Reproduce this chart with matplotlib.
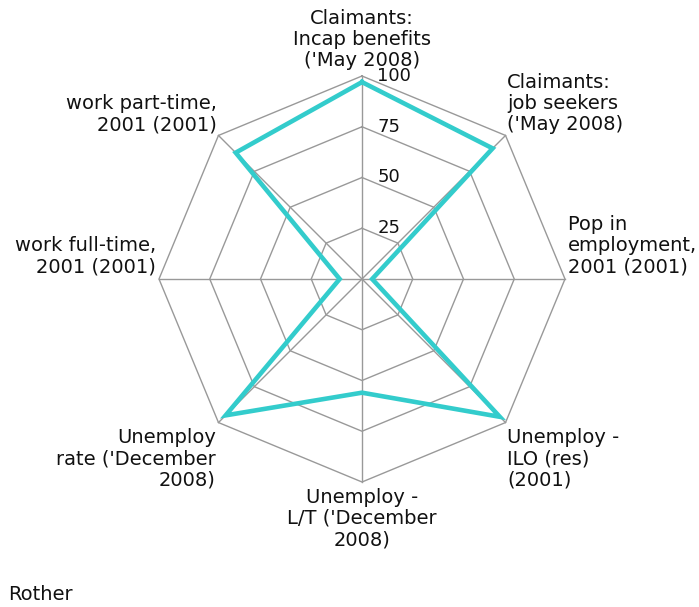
import numpy as np
import matplotlib
matplotlib.use("Agg")
import matplotlib.pyplot as plt

categories = [
    "Claimants:\nIncap benefits\n('May 2008)",
    "Claimants:\njob seekers\n('May 2008)",
    "Pop in\nemployment,\n2001 (2001)",
    "Unemploy -\nILO (res)\n(2001)",
    "Unemploy -\nL/T ('December\n2008)",
    "Unemploy\nrate ('December\n2008)",
    "work full-time,\n2001 (2001)",
    "work part-time,\n2001 (2001)",
]
values = [97, 91, 5, 96, 56, 95, 11, 88]
ring_levels = [25, 50, 75, 100]
ring_labels = ["25", "50", "75", "100"]
series_name = "Rother"

FS = 14
LS = 1.15
TEXT = "#111111"
GRID = "#999999"
LINE = "#33CCCC"

W, H = 699, 607
fig = plt.figure(figsize=(W / 100, H / 100), dpi=100)
cx, cy, R = 362, 279, 203
ax = fig.add_axes([(cx - R) / W, (H - cy - R) / H, 2 * R / W, 2 * R / H], projection="polar")
ax.set_theta_zero_location("N")
ax.set_theta_direction(-1)
ax.set_ylim(0, 100)
ax.grid(False)
ax.set_xticks([])
ax.set_yticks([])
ax.spines["polar"].set_visible(False)
ax.patch.set_visible(False)

n = len(categories)
angles = np.arange(n) * 2 * np.pi / n
closed = np.append(angles, angles[0])

for lvl in ring_levels:
    ax.plot(closed, [lvl] * (n + 1), color=GRID, lw=1.0, zorder=1, clip_on=False)
for a in angles:
    ax.plot([a, a], [0, ring_levels[-1]], color=GRID, lw=1.0, zorder=1, clip_on=False)

ax.plot(closed, np.append(values, values[0]), color=LINE, lw=3.3, zorder=3,
        clip_on=False, solid_joinstyle="miter")

for lvl, lab in zip(ring_levels, ring_labels):
    ax.annotate(lab, xy=(0, lvl), xytext=(11, 0), textcoords="offset points",
                ha="left", va="center", fontsize=FS - 1, color=TEXT, zorder=4)

align = [
    ("center", "bottom", (0, 4)),
    ("left", "bottom", (1, 1)),
    ("left", "bottom", (2, 2)),
    ("left", "top", (1, -4)),
    ("center", "top", (0, -4)),
    ("right", "top", (-2, -4)),
    ("right", "bottom", (-2, 2)),
    ("right", "bottom", (-1, 1)),
]
for a, lab, (ha, va, off) in zip(angles, categories, align):
    ax.annotate(lab, xy=(a, ring_levels[-1]), xytext=off, textcoords="offset points",
                ha=ha, va=va, multialignment=ha if ha != "center" else "center",
                fontsize=FS, color=TEXT, linespacing=LS, annotation_clip=False)

fig.text(8 / W, 1 - 595 / H, series_name, ha="left", va="center", fontsize=FS, color=TEXT)

fig.savefig("out.png", dpi=100)
